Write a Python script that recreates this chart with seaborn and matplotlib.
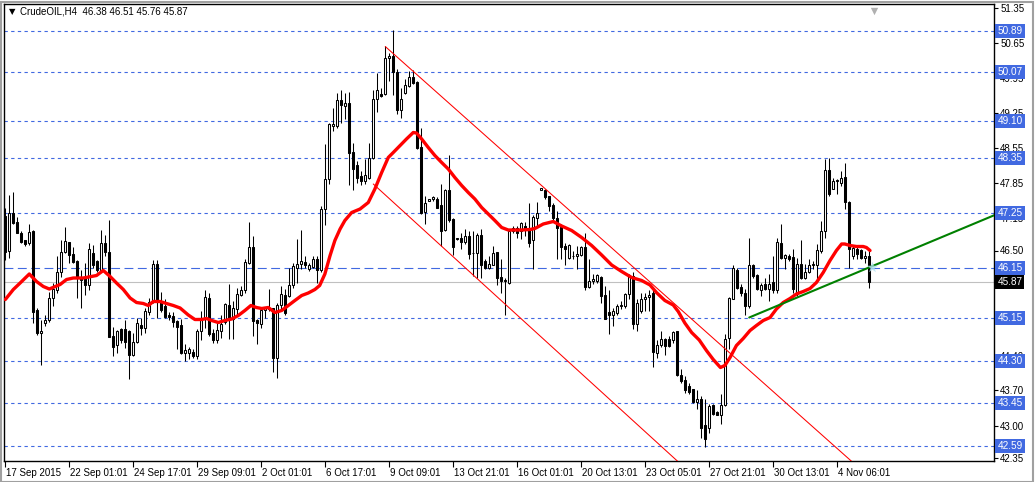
import numpy as np
import pandas as pd
import matplotlib
matplotlib.use("Agg")
import matplotlib.pyplot as plt
import matplotlib.transforms as mtransforms
from matplotlib.patches import Rectangle
import seaborn as sns

# H4 candles, CrudeOIL 17 Sep - 5 Nov 2015
opens = [
    47.18, 46.50, 47.25, 47.07, 46.86, 46.70, 46.65, 46.88, 45.32, 44.85,
    45.05, 45.12, 45.55, 45.72, 46.08, 46.48, 46.67, 46.42, 46.28, 45.95,
    45.95, 45.82, 46.45, 46.28, 46.12, 46.65, 46.48, 44.78, 44.62, 44.92,
    44.92, 44.88, 44.42, 44.68, 45.00, 44.95, 45.28, 45.48, 46.22, 45.48,
    45.38, 45.20, 45.18, 45.08, 45.01, 44.45, 44.45, 44.48, 44.40, 44.90,
    45.14, 45.54, 44.85, 44.70, 44.90, 45.06, 45.41, 45.13, 45.33, 45.61,
    45.70, 46.26, 46.56, 45.11, 45.03, 45.31, 45.34, 45.34, 44.36, 45.41,
    45.60, 45.60, 45.81, 46.16, 46.23, 46.28, 46.14, 46.18, 46.33, 46.12,
    47.33, 47.94, 49.00, 49.00, 49.51, 49.40, 49.45, 48.46, 48.20, 47.99,
    47.90, 47.96, 48.36, 49.53, 49.63, 49.63, 50.34, 50.38, 50.08, 49.32,
    49.65, 49.80, 49.98, 49.88, 48.56, 47.28, 47.50, 47.52, 47.54, 47.41,
    46.92, 47.70, 47.13, 46.76, 46.76, 46.68, 46.80, 46.46, 46.46, 46.81,
    46.28, 46.16, 46.22, 46.48, 45.96, 45.88, 45.86, 46.90, 46.95, 46.90,
    47.00, 46.93, 46.70, 47.16, 47.70, 47.70, 47.58, 47.40, 47.16, 46.96,
    46.60, 46.36, 46.40, 46.40, 46.41, 46.56, 45.78, 45.90, 45.90, 45.98,
    45.60, 45.26, 45.20, 45.26, 45.38, 45.40, 45.63, 46.00, 45.03, 45.30,
    45.52, 45.56, 45.66, 44.46, 44.61, 44.74, 44.73, 44.70, 44.88, 44.01,
    43.90, 43.80, 43.72, 43.48, 43.53, 43.00, 42.96, 43.40, 43.26, 43.20,
    43.41, 44.76, 45.54, 46.10, 45.76, 45.66, 45.40, 46.20, 46.00, 45.70,
    45.83, 45.73, 45.86, 45.70, 46.65, 46.35, 46.40, 46.36, 45.66, 46.23,
    45.96, 46.08, 46.20, 46.20, 46.50, 46.88, 48.10, 47.74, 47.88, 47.85,
    47.98, 47.48, 46.38, 46.54, 46.50, 46.36, 46.38]
highs = [
    47.35, 47.62, 47.68, 47.18, 46.88, 46.72, 47.02, 46.92, 45.35, 45.12,
    45.20, 45.68, 45.85, 46.38, 46.72, 46.98, 46.68, 46.58, 46.32, 46.12,
    46.25, 46.65, 46.62, 46.32, 46.92, 46.82, 47.12, 44.98, 44.92, 44.95,
    45.12, 44.92, 44.85, 45.15, 45.15, 45.35, 45.55, 46.32, 46.32, 45.68,
    45.52, 45.28, 45.28, 45.12, 45.13, 44.63, 44.56, 44.54, 44.93, 45.30,
    45.70, 45.66, 44.93, 45.10, 45.20, 45.46, 45.83, 45.50, 45.76, 45.80,
    46.33, 47.08, 46.80, 45.13, 45.36, 45.36, 45.73, 45.36, 45.46, 45.80,
    45.73, 46.16, 46.26, 46.73, 46.91, 46.40, 46.26, 46.40, 46.40, 47.40,
    48.63, 49.06, 49.34, 49.66, 49.70, 49.66, 49.68, 48.66, 48.30, 48.10,
    48.33, 48.66, 49.70, 50.06, 49.75, 50.60, 50.46, 50.91, 50.14, 49.76,
    49.93, 50.10, 50.12, 49.90, 48.96, 47.60, 47.53, 47.60, 47.56, 47.83,
    47.73, 48.41, 47.16, 46.76, 46.86, 46.94, 46.88, 46.88, 46.86, 46.93,
    46.33, 46.40, 46.60, 46.48, 46.33, 45.96, 46.93, 46.99, 46.99, 47.08,
    47.06, 47.46, 47.20, 47.48, 47.74, 47.73, 47.60, 47.46, 47.30, 47.03,
    46.66, 46.63, 46.50, 46.60, 46.60, 46.86, 46.33, 46.03, 46.03, 46.00,
    45.80, 45.70, 45.36, 45.43, 45.50, 45.66, 46.03, 46.06, 45.53, 45.66,
    45.66, 45.70, 45.76, 44.70, 44.90, 44.74, 44.80, 44.90, 44.90, 44.14,
    43.99, 43.86, 43.73, 43.72, 43.60, 43.53, 43.43, 43.43, 43.30, 43.63,
    44.83, 45.56, 46.20, 46.16, 45.83, 45.73, 46.76, 46.23, 46.03, 45.86,
    45.96, 46.03, 46.40, 46.76, 47.03, 46.43, 46.43, 46.53, 46.36, 46.72,
    46.23, 46.33, 46.30, 46.63, 47.10, 48.33, 48.36, 47.96, 47.93, 48.10,
    48.26, 47.50, 46.60, 46.56, 46.53, 46.50, 46.51]
lows = [
    46.32, 46.35, 47.02, 46.85, 46.65, 46.60, 46.62, 45.05, 44.82, 44.22,
    45.00, 45.08, 45.40, 45.65, 45.98, 46.45, 46.25, 46.25, 45.55, 45.35,
    45.62, 45.72, 46.15, 46.08, 46.08, 46.38, 44.78, 44.38, 44.45, 44.65,
    44.55, 43.93, 44.38, 44.65, 44.82, 44.85, 45.22, 45.45, 45.15, 45.28,
    45.15, 45.12, 44.98, 44.52, 44.43, 44.30, 44.33, 44.36, 44.33, 44.70,
    44.96, 44.80, 44.66, 44.66, 44.76, 45.03, 44.73, 44.73, 45.20, 45.60,
    45.66, 46.23, 44.80, 44.63, 44.96, 45.16, 45.30, 44.08, 43.96, 45.33,
    45.20, 45.56, 45.76, 45.86, 46.13, 46.16, 46.10, 46.16, 45.86, 46.06,
    47.01, 47.83, 48.90, 48.96, 49.06, 49.13, 47.81, 47.70, 47.86, 47.81,
    47.83, 47.93, 48.33, 49.28, 49.58, 49.61, 49.88, 49.61, 49.23, 49.16,
    49.63, 49.78, 49.83, 48.54, 47.23, 47.03, 47.50, 47.50, 47.36, 46.60,
    46.88, 47.06, 46.41, 46.72, 46.54, 46.63, 46.33, 45.99, 45.96, 45.96,
    46.14, 46.13, 46.20, 45.81, 45.66, 45.21, 45.83, 46.85, 46.76, 46.74,
    46.80, 46.56, 46.14, 46.99, 47.70, 47.53, 47.30, 47.10, 46.33, 46.33,
    46.20, 46.33, 46.33, 46.13, 46.40, 45.70, 45.76, 45.83, 45.86, 45.46,
    45.13, 44.83, 45.00, 45.20, 45.33, 45.36, 45.53, 44.93, 44.90, 45.26,
    45.30, 45.30, 44.18, 44.36, 44.58, 44.41, 44.56, 44.66, 44.00, 43.86,
    43.66, 43.63, 43.46, 43.33, 42.75, 42.56, 42.86, 43.20, 43.20, 43.03,
    43.40, 44.53, 45.53, 45.73, 45.60, 45.20, 45.36, 45.96, 45.70, 45.60,
    45.70, 45.50, 45.66, 45.66, 46.33, 46.13, 46.30, 45.66, 45.60, 45.93,
    45.93, 46.05, 46.13, 45.93, 46.46, 46.76, 47.60, 47.73, 47.63, 47.80,
    47.33, 46.16, 46.33, 46.33, 46.33, 46.26, 45.76]
closes = [
    46.48, 47.25, 47.05, 46.86, 46.68, 46.63, 46.87, 45.28, 44.85, 44.88,
    45.12, 45.55, 45.72, 46.08, 46.48, 46.68, 46.42, 46.28, 45.95, 45.92,
    45.82, 46.52, 46.22, 46.12, 46.65, 46.48, 44.78, 44.58, 44.88, 44.72,
    44.68, 44.42, 44.68, 45.05, 44.95, 45.28, 45.48, 46.22, 45.48, 45.32,
    45.18, 45.17, 45.08, 44.98, 44.45, 44.50, 44.53, 44.40, 44.90, 45.14,
    45.56, 44.83, 44.70, 44.90, 45.03, 45.43, 45.13, 45.34, 45.63, 45.71,
    46.26, 46.56, 45.10, 45.05, 45.31, 45.34, 45.33, 44.36, 45.41, 45.63,
    45.26, 45.81, 46.18, 46.23, 46.30, 46.21, 46.21, 46.33, 46.12, 47.33,
    47.94, 49.03, 49.03, 49.51, 49.41, 49.45, 48.45, 48.13, 47.96, 47.90,
    48.00, 48.36, 49.53, 49.72, 49.60, 50.34, 50.38, 50.08, 49.32, 49.52,
    49.81, 49.98, 49.85, 48.56, 47.26, 47.45, 47.52, 47.56, 47.36, 46.90,
    47.70, 47.12, 46.56, 46.74, 46.68, 46.78, 46.43, 46.46, 46.81, 46.20,
    46.16, 46.22, 46.45, 45.96, 45.90, 45.90, 46.90, 46.95, 46.86, 47.05,
    46.93, 46.66, 47.16, 47.25, 47.74, 47.56, 47.38, 47.16, 46.96, 46.56,
    46.53, 46.61, 46.40, 46.42, 46.56, 45.78, 45.90, 45.92, 46.00, 45.60,
    45.13, 45.20, 45.28, 45.40, 45.41, 45.63, 46.00, 45.03, 45.46, 45.52,
    45.56, 45.60, 44.48, 44.61, 44.73, 44.60, 44.60, 44.86, 44.01, 43.88,
    43.70, 43.68, 43.48, 43.53, 42.95, 42.73, 43.40, 43.23, 43.20, 43.41,
    44.73, 45.54, 46.16, 45.76, 45.66, 45.40, 46.20, 46.00, 45.73, 45.81,
    45.73, 45.83, 45.70, 46.66, 46.36, 46.41, 46.33, 45.73, 46.23, 45.96,
    46.06, 46.20, 46.22, 46.50, 46.88, 48.10, 47.63, 47.90, 47.90, 47.96,
    47.48, 46.53, 46.54, 46.43, 46.36, 46.38, 45.87]

# red moving average, read at sample bars
ma_bar = [0, 2, 3.7, 6, 7.8, 9.5, 11, 13.7, 15.3, 17, 19.5, 22.8, 24.5, 26.2,
          27.8, 29.5, 31.2, 32.8, 34.5, 35.75, 37, 38.7, 40.3, 42, 43.7, 45.75,
          47.4, 49.1, 50.3, 51.6, 53.25, 54.9, 56.6, 58.25, 59.9, 61.4, 62.8,
          64.1, 65.75, 67.4, 69.1, 70.75, 72.4, 74.1, 75.75, 77.4, 78.6, 79.9,
          81.2, 82.4, 83.7, 84.9, 86.6, 88.7, 90.75, 92.4, 94.1, 95.75, 97,
          98.7, 100.3, 102, 102.8, 104.1, 105.75, 107.4, 109.1, 110.75, 112.4,
          114.1, 115.75, 117.4, 119.1, 120.75, 122.4, 124.1, 125.75, 127.4,
          129.1, 131.2, 132.4, 134.5, 137, 139.1, 141.6, 144.1, 146.6, 149.1,
          151.6, 154.1, 156.6, 159.1, 161.2, 162.8, 164.9, 167, 168.25, 169.9,
          171.6, 173.5, 175.3, 177, 178.8, 179.9, 181.2, 182.8, 184.5, 186.2,
          187.8, 189.5, 191.2, 192.8, 194.5, 196.2, 197.8, 199.5, 201.2, 202.8,
          204.5, 206.2, 207.8, 209.1, 209.9, 211.2, 212.8, 214.5, 215.3, 216.2]
ma_val = [45.52, 45.72, 45.85, 46.03, 45.88, 45.78, 45.73, 45.82, 45.92, 45.95,
          45.95, 46.00, 46.10, 45.98, 45.85, 45.72, 45.55, 45.46, 45.44, 45.40,
          45.48, 45.48, 45.44, 45.40, 45.35, 45.21, 45.12, 45.12, 45.14, 45.10,
          45.06, 45.10, 45.13, 45.20, 45.30, 45.40, 45.36, 45.34, 45.36, 45.26,
          45.30, 45.40, 45.50, 45.60, 45.65, 45.72, 45.80, 46.03, 46.40, 46.70,
          46.93, 47.10, 47.26, 47.33, 47.46, 47.73, 48.06, 48.36, 48.46, 48.60,
          48.73, 48.86, 48.85, 48.73, 48.56, 48.40, 48.26, 48.13, 47.96, 47.80,
          47.66, 47.53, 47.36, 47.23, 47.10, 46.96, 46.91, 46.91, 46.91, 46.92,
          46.94, 47.03, 47.08, 46.99, 46.90, 46.76, 46.60, 46.41, 46.21, 46.08,
          45.96, 45.90, 45.81, 45.66, 45.50, 45.41, 45.28, 45.05, 44.86, 44.71,
          44.50, 44.32, 44.16, 44.20, 44.36, 44.60, 44.74, 44.90, 45.00, 45.10,
          45.16, 45.33, 45.46, 45.54, 45.63, 45.68, 45.74, 45.86, 46.06, 46.30,
          46.50, 46.63, 46.63, 46.60, 46.58, 46.58, 46.56, 46.50]

# trend lines (bar, price) end points
chan_upper = ([95, 216], [50.58, 41.97])
chan_lower = ([92, 172], [47.83, 42.00])
support = ([186, 248], [45.16, 47.23])

levels = [50.89, 50.07, 49.10, 48.35, 47.25, 45.15, 44.30, 43.45, 42.59]
level_dashdot = 46.15
bid = 45.87
price_ticks = [51.35, 50.65, 49.95, 49.25, 48.55, 47.85, 47.15, 46.50,
               44.40, 43.70, 43.00, 42.35]
time_labels = ['17 Sep 2015', '22 Sep 01:01', '24 Sep 17:01', '29 Sep 09:01',
               '2 Oct 01:01', '6 Oct 17:01', '9 Oct 09:01', '13 Oct 21:01',
               '16 Oct 01:01', '20 Oct 13:01', '23 Oct 05:01', '27 Oct 21:01',
               '30 Oct 13:01', '4 Nov 06:01']

df = pd.DataFrame({'o': opens, 'h': highs, 'l': lows, 'c': closes})
df['bar'] = np.arange(len(df))
df['up'] = df['c'] >= df['o']

sns.set_theme(style='white')
plt.rcParams['font.family'] = ['Liberation Sans', 'DejaVu Sans']

W, H = 1036, 482
fig = plt.figure(figsize=(W / 100, H / 100), dpi=100)
fig.patch.set_facecolor('white')
ax = fig.add_axes([4 / W, 21 / H, 990 / W, 457 / H])
ax.set_facecolor('white')

blue = '#4169e1'
for lv in levels:
    ax.axhline(lv, color=blue, lw=0.8, linestyle=(0, (3, 3)), zorder=1)
ax.axhline(level_dashdot, color=blue, lw=0.8, linestyle=(0, (8, 4)), zorder=1)
ax.axhline(bid, color='#c0c0c0', lw=0.8, zorder=1)

# candles
ax.vlines(df['bar'], df['l'], df['h'], color='black', lw=0.75, zorder=2)
ax.bar(df['bar'], (df['c'] - df['o']).abs(), bottom=df[['o', 'c']].min(axis=1),
       width=0.55, color=np.where(df['up'], 'white', 'black'),
       edgecolor='black', linewidth=0.75, zorder=3)

# channel, MA, support
ax.plot(chan_upper[0], chan_upper[1], color='red', lw=0.75, zorder=4)
ax.plot(chan_lower[0], chan_lower[1], color='red', lw=0.75, zorder=4)
sns.lineplot(x=ma_bar, y=ma_val, ax=ax, color='#ff0000', linewidth=2.4,
             zorder=5, sort=False)
sns.lineplot(x=support[0], y=support[1], ax=ax, color='#008000', linewidth=1.5,
             zorder=6)
ax.scatter([216.7], [46.17], marker='*', s=70, color='#aee0f0', alpha=0.8,
           zorder=7, linewidths=0)

ax.set_xlim(-0.33, 247.2)
ax.set_ylim(42.29, 51.43)

# axes styling
for s in ax.spines.values():
    s.set_color('black')
    s.set_linewidth(1)
ax.yaxis.tick_right()
ax.set_yticks(price_ticks)
ax.set_yticklabels([f'{v:.2f}' for v in price_ticks])
ax.set_xticks(np.arange(len(time_labels)) * 16)
ax.set_xticklabels(time_labels, ha='left')
ax.tick_params(axis='both', which='both', direction='out', colors='black',
               labelsize=7, length=3, width=0.8, pad=1.5,
               bottom=True, right=True, left=False)
ax.tick_params(axis='x', length=4, pad=1)
offset = mtransforms.ScaledTranslation(1 / 100, 0, fig.dpi_scale_trans)
for lbl in ax.get_xticklabels():
    lbl.set_transform(lbl.get_transform() + offset)
ax.set_xlabel('')
ax.set_ylabel('')
ax.grid(False)

# price tags on the right scale
trans = mtransforms.blended_transform_factory(ax.transAxes, ax.transData)
for lv in levels + [level_dashdot]:
    ax.text(1.0035, lv, f'{lv:.2f}', transform=trans, color='white',
            fontsize=7.2, va='center', ha='left', clip_on=False, zorder=10,
            bbox=dict(boxstyle='square,pad=0.2', fc=blue, ec='none'))
ax.text(1.0035, bid, f'{bid:.2f}', transform=trans, color='white',
        fontsize=7.2, va='center', ha='left', clip_on=False, zorder=10,
        bbox=dict(boxstyle='square,pad=0.2', fc='black', ec='none'))

# shift marker at top
ax.scatter([0.879], [0.985], transform=ax.transAxes, marker='v', s=28,
           color='#b0b0b0', clip_on=False, zorder=8, linewidths=0)

# header
fig.text(9 / W, 1 - 12 / H, '\u25bc', fontsize=6, color='black',
         va='center', ha='left', family=['DejaVu Sans'])
fig.text(20 / W, 1 - 12 / H, 'CrudeOIL,H4  46.38 46.51 45.76 45.87',
         fontsize=7, color='black', va='center', ha='left')

# window frame
fig.patches.append(Rectangle((0.5 / W, 0.5 / H), 1 - 3.5 / W, 1 - 2 / H,
                             transform=fig.transFigure, fill=False,
                             ec='#a0a0a0', lw=1.5))

fig.savefig('out.png', dpi=100)
